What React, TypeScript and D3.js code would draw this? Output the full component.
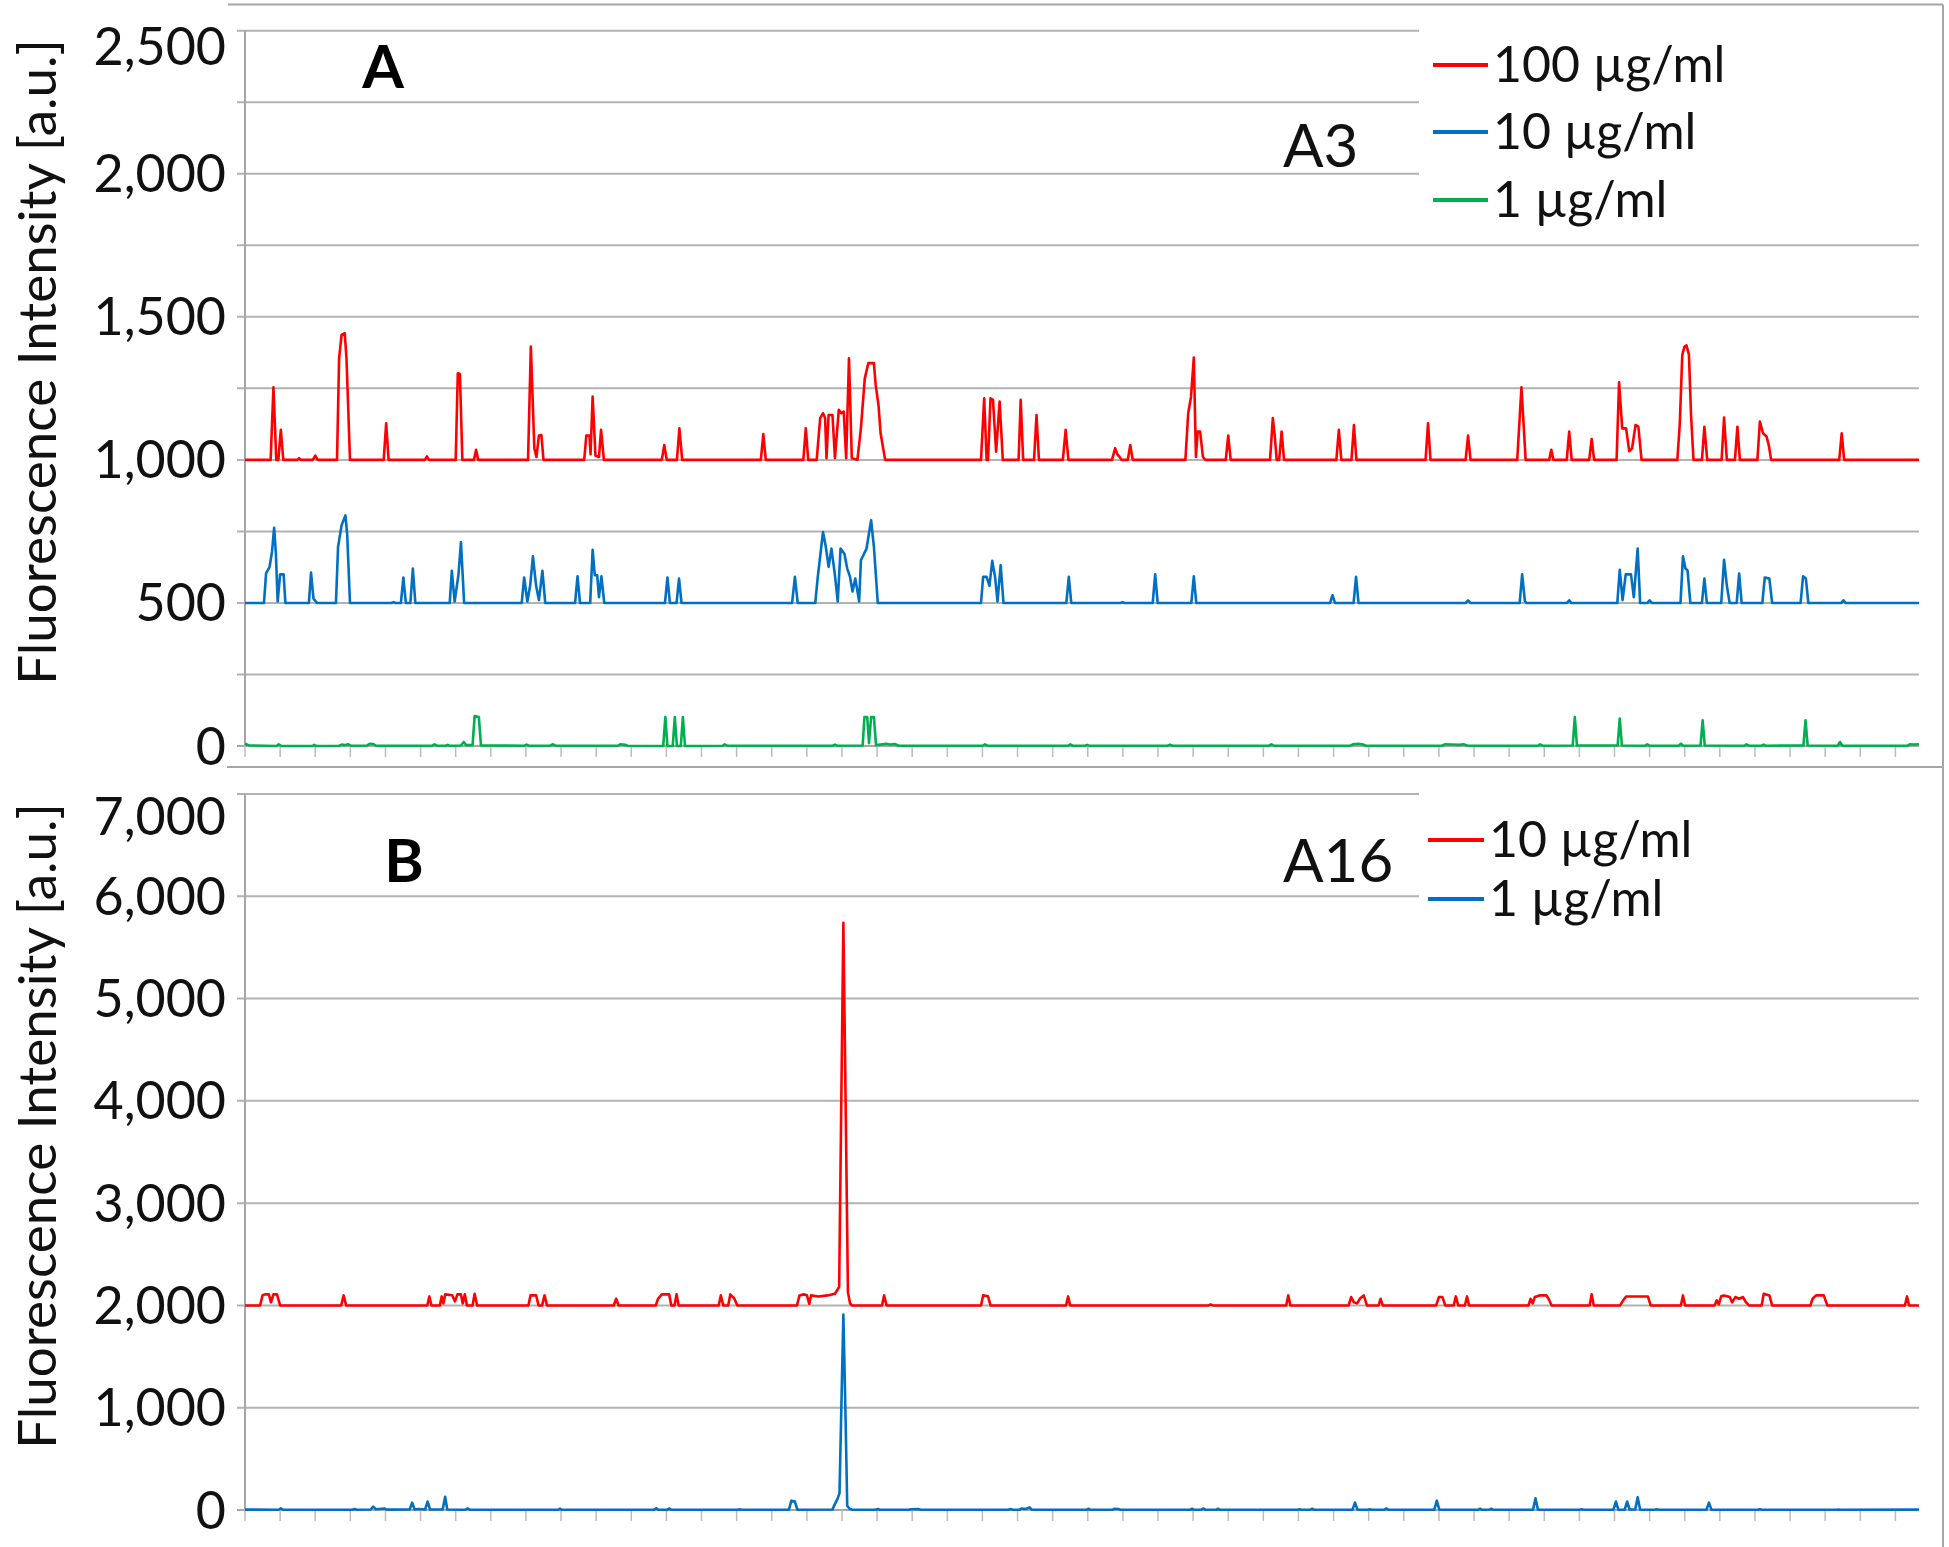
import React, { useRef, useEffect } from "react";
import * as d3 from "d3";

type Pt = [number, number];

// x = sample index along the scan, y = fluorescence intensity [a.u.]
const sampleCount = 477;
const tickEvery = 10;

// Panel A (A3): 100 µg/ml trace (drawn offset to 1000)
const a3High: Pt[] = [
  [0, 1000], [7.3, 1000], [8.1, 1254], [8.9, 1000], [9.5, 1000], [10.2, 1105], [10.9, 1000],
  [14.9, 1000], [15.4, 1006], [15.9, 1000], [19.3, 1000], [20.0, 1015], [20.7, 1000],
  [26.2, 1000], [26.8, 1355], [27.5, 1437], [28.4, 1443], [28.9, 1355], [29.9, 1000],
  [39.5, 1000], [40.2, 1128], [40.9, 1000], [51.2, 1000], [51.8, 1012], [52.4, 1000],
  [60.0, 1000], [60.6, 1303], [61.2, 1300], [61.9, 1000], [65.2, 1000], [65.8, 1035], [66.4, 1000],
  [80.6, 1000], [81.4, 1396], [82.4, 1040], [83.0, 1010], [83.7, 1085], [84.4, 1087], [85.0, 1000],
  [96.6, 1000], [97.2, 1085], [98.1, 1085], [98.4, 1020], [99.0, 1221], [99.8, 1015], [100.8, 1010],
  [101.4, 1105], [102.2, 1000], [118.7, 1000], [119.4, 1052], [120.1, 1000], [123.0, 1000],
  [123.7, 1110], [124.5, 1000], [146.9, 1000], [147.6, 1090], [148.3, 1000], [159.0, 1000],
  [159.7, 1110], [160.4, 1000], [162.8, 1000], [163.8, 1146], [164.6, 1163], [165.2, 1146],
  [165.6, 1006], [166.2, 1157], [167.3, 1157], [168.0, 1006], [169.1, 1175], [169.8, 1163],
  [170.5, 1169], [171.2, 1006], [172.0, 1355], [172.8, 1006], [174.4, 1000], [175.4, 1111],
  [176.5, 1285], [177.5, 1338], [179.1, 1338], [179.6, 1262], [180.4, 1192], [181.0, 1093],
  [182.3, 1000], [209.6, 1000], [210.5, 1215], [211.2, 1000], [211.6, 1000], [212.3, 1215],
  [213.0, 1210], [213.9, 1029], [214.9, 1204], [215.8, 1000], [220.3, 1000], [220.9, 1210],
  [221.6, 1000], [224.7, 1000], [225.4, 1157], [226.1, 1000], [232.9, 1000], [233.7, 1105],
  [234.5, 1000], [246.9, 1000], [247.8, 1041], [248.4, 1020], [249.2, 1008], [249.6, 1000],
  [251.4, 1000], [252.1, 1052], [252.8, 1000], [267.8, 1000], [268.6, 1163], [269.4, 1220],
  [270.2, 1358], [270.8, 1010], [271.3, 1099], [272.0, 1099], [272.8, 1010], [273.5, 1000],
  [279.3, 1000], [280.0, 1085], [280.7, 1000], [291.9, 1000], [292.7, 1146], [293.2, 1090],
  [293.8, 1000], [294.5, 1000], [295.2, 1099], [295.9, 1000], [310.8, 1000], [311.5, 1105],
  [312.2, 1000], [315.1, 1000], [315.8, 1122], [316.5, 1000], [336.2, 1000], [336.9, 1128],
  [337.6, 1000], [347.6, 1000], [348.3, 1085], [349.0, 1000], [362.3, 1000], [363.5, 1254],
  [364.7, 1000], [371.4, 1000], [372.0, 1035], [372.6, 1000], [376.4, 1000], [377.1, 1099],
  [377.8, 1000], [382.8, 1000], [383.5, 1073], [384.2, 1000], [390.6, 1000], [391.3, 1271],
  [392.2, 1110], [393.3, 1110], [394.2, 1030], [395.0, 1040], [396.0, 1122], [396.8, 1116],
  [397.7, 1000], [407.9, 1000], [408.6, 1128], [409.3, 1367], [409.9, 1395], [410.5, 1400],
  [411.2, 1367], [411.8, 1157], [412.5, 1000], [414.9, 1000], [415.6, 1116], [416.4, 1000],
  [420.5, 1000], [421.2, 1148], [422.0, 1000], [424.3, 1000], [425.0, 1116], [425.7, 1000],
  [430.7, 1000], [431.4, 1134], [432.3, 1093], [433.3, 1082], [434.0, 1047], [434.6, 1000],
  [454.0, 1000], [454.7, 1093], [455.4, 1000], [476.7, 1000],
];

// Panel A (A3): 10 µg/ml trace (offset to 500)
const a3Mid: Pt[] = [
  [0, 500], [5.4, 500], [6.0, 603], [7.0, 626], [7.7, 680], [8.3, 763], [8.8, 672], [9.3, 505],
  [10.0, 600], [11.0, 600], [11.5, 500], [18.2, 500], [18.8, 606], [19.5, 515], [20.5, 500],
  [25.9, 500], [26.5, 696], [27.5, 771], [28.6, 806], [29.1, 740], [29.9, 500], [41.7, 500],
  [42.3, 503], [42.9, 500], [44.4, 500], [45.1, 589], [45.8, 500], [47.1, 500], [47.8, 620],
  [48.5, 500], [58.3, 500], [58.9, 612], [59.7, 505], [60.8, 600], [61.5, 713], [62.4, 500],
  [78.8, 500], [79.5, 589], [80.4, 505], [81.2, 560], [82.0, 663], [82.9, 560], [83.7, 510],
  [84.7, 612], [85.5, 500], [94.0, 500], [94.7, 593], [95.4, 500], [98.3, 500], [99.0, 686],
  [99.6, 597], [100.3, 597], [100.8, 520], [101.5, 593], [102.3, 500], [119.6, 500], [120.3, 589],
  [121.0, 500], [122.9, 500], [123.6, 585], [124.3, 500], [155.8, 500], [156.6, 591], [157.4, 500],
  [162.4, 500], [163.1, 589], [164.6, 748], [165.4, 696], [166.2, 626], [167.0, 690], [168.0, 597],
  [168.8, 505], [169.6, 690], [170.7, 672], [171.5, 620], [172.3, 591], [173.0, 540], [173.8, 585],
  [174.9, 505], [175.4, 649], [177.0, 690], [178.3, 789], [179.1, 696], [180.2, 500], [209.6, 500],
  [210.2, 591], [211.2, 591], [212.0, 560], [212.8, 647], [213.6, 591], [214.3, 505], [215.2, 632],
  [216.0, 500], [233.9, 500], [234.6, 591], [235.3, 500], [249.3, 500], [249.9, 503], [250.5, 500],
  [258.5, 500], [259.2, 600], [259.9, 500], [269.5, 500], [270.2, 593], [270.9, 500], [309.0, 500],
  [309.7, 527], [310.4, 500], [315.7, 500], [316.4, 591], [317.1, 500], [347.6, 500], [348.3, 509],
  [349.0, 500], [363.0, 500], [363.7, 600], [364.5, 505], [365.0, 500], [376.5, 500], [377.1, 509],
  [377.7, 500], [390.8, 500], [391.5, 616], [392.3, 510], [393.2, 600], [394.7, 600], [395.5, 520],
  [396.6, 690], [397.3, 500], [399.4, 500], [400.0, 509], [400.6, 500], [408.8, 500], [409.5, 663],
  [410.2, 620], [410.8, 614], [411.6, 500], [414.9, 500], [415.6, 585], [416.3, 500], [420.4, 500],
  [421.2, 651], [422.0, 560], [422.8, 500], [424.8, 500], [425.5, 603], [426.2, 500], [432.1, 500],
  [432.8, 589], [434.1, 585], [434.9, 500], [443.0, 500], [443.7, 593], [444.5, 585], [445.2, 500],
  [454.6, 500], [455.2, 509], [455.8, 500], [476.7, 500],
];

// Panel A (A3): 1 µg/ml trace
const a3Low: Pt[] = [
  [0, 8], [1.2, 2], [9.0, 0], [9.6, 6], [10.3, 0], [19.2, 0], [19.7, 4], [20.3, 0], [26.8, 1],
  [27.5, 5], [28.4, 3], [29.3, 6], [30.1, 1], [34.8, 2], [35.6, 8], [36.6, 7], [37.3, 1], [53.3, 1],
  [54.0, 6], [54.7, 1], [57.1, 1], [57.7, 4], [58.3, 1], [61.5, 2], [62.3, 14], [63.0, 3], [64.8, 3],
  [65.4, 105], [66.6, 101], [67.2, 2], [79.6, 1], [80.2, 5], [80.8, 1], [86.9, 1], [87.6, 6],
  [88.4, 1], [106.2, 1], [107.0, 6], [108.2, 4], [109.0, 1], [119.1, 0], [119.7, 101], [120.3, 0],
  [121.8, 0], [122.4, 101], [123.0, 0], [124.1, 0], [124.7, 101], [125.3, 0], [136.0, 1],
  [136.6, 6], [137.3, 1], [167.4, 1], [168.0, 5], [168.6, 1], [175.9, 2], [176.4, 101],
  [177.2, 101], [177.7, 10], [178.3, 101], [179.1, 101], [179.7, 3], [181.5, 6], [182.6, 8],
  [183.8, 5], [185.0, 7], [186.2, 1], [210.1, 1], [210.7, 6], [211.4, 1], [234.4, 1], [235.0, 6],
  [235.7, 1], [239.2, 1], [239.8, 4], [240.4, 1], [262.8, 1], [263.4, 5], [264.1, 1], [291.6, 1],
  [292.3, 6], [293.0, 1], [314.8, 1], [315.6, 6], [317.0, 8], [318.4, 5], [319.2, 1], [340.8, 1],
  [341.8, 6], [343.6, 5], [345.8, 4], [347.0, 6], [348.2, 1], [368.2, 1], [368.8, 6], [369.5, 1],
  [378.1, 2], [378.7, 101], [379.3, 2], [390.9, 2], [391.5, 96], [392.1, 2], [398.7, 1], [399.3, 6],
  [400.0, 1], [408.3, 1], [408.9, 8], [409.6, 1], [414.5, 2], [415.1, 90], [415.7, 2], [427.0, 1],
  [427.6, 6], [428.3, 1], [431.9, 1], [432.5, 5], [433.1, 1], [443.8, 2], [444.4, 90], [445.0, 2],
  [453.6, 1], [454.2, 14], [454.9, 1], [473.4, 1], [474.2, 6], [475.4, 5], [476.7, 6],
];

// Panel B (A16): 10 µg/ml trace (offset to 2000)
const a16High: Pt[] = [
  [0, 2000], [4.3, 2000], [5.0, 2100], [5.7, 2108], [6.8, 2108], [7.4, 2030], [8.1, 2108],
  [9.1, 2108], [10.0, 2000], [27.4, 2000], [28.1, 2098], [28.8, 2000], [51.9, 2000], [52.5, 2088],
  [53.1, 2000], [55.5, 2000], [56.0, 2088], [56.5, 2020], [57.0, 2108], [59.0, 2100], [59.8, 2040],
  [60.5, 2108], [61.5, 2108], [62.0, 2020], [62.6, 2108], [63.2, 2000], [64.8, 2000], [65.4, 2114],
  [66.1, 2000], [80.7, 2000], [81.3, 2098], [82.9, 2098], [83.6, 2000], [84.6, 2000], [85.3, 2098],
  [86.0, 2000], [105.0, 2000], [105.7, 2065], [106.4, 2000], [117.0, 2000], [117.6, 2065],
  [118.7, 2108], [120.8, 2108], [121.4, 2000], [122.3, 2000], [122.9, 2108], [123.5, 2000],
  [134.9, 2000], [135.5, 2098], [136.2, 2000], [137.6, 2000], [138.2, 2108], [139.3, 2070],
  [140.2, 2000], [157.2, 2000], [157.9, 2098], [159.1, 2108], [160.0, 2100], [160.7, 2016],
  [161.2, 2098], [163.3, 2088], [165.9, 2098], [168.0, 2114], [169.2, 2180], [170.4, 5740],
  [171.1, 3820], [171.7, 2130], [172.3, 2020], [172.8, 2000], [181.4, 2000], [182.0, 2098],
  [182.7, 2000], [209.6, 2000], [210.2, 2098], [211.6, 2090], [212.3, 2000], [233.8, 2000],
  [234.4, 2088], [235.0, 2000], [274.4, 2000], [275.0, 2010], [275.6, 2000], [296.5, 2000],
  [297.1, 2098], [297.7, 2000], [314.3, 2000], [315.0, 2082], [315.8, 2030], [316.7, 2020],
  [317.6, 2070], [318.6, 2098], [319.5, 2000], [322.8, 2000], [323.4, 2065], [324.0, 2000],
  [339.2, 2000], [340.0, 2082], [341.0, 2082], [341.8, 2000], [344.2, 2000], [344.8, 2088],
  [345.5, 2000], [347.4, 2000], [348.0, 2088], [348.6, 2000], [365.5, 2000], [366.1, 2065],
  [366.7, 2020], [367.3, 2082], [368.8, 2100], [370.6, 2098], [371.3, 2060], [372.1, 2000],
  [382.9, 2000], [383.5, 2108], [384.1, 2000], [391.6, 2000], [392.3, 2040], [393.3, 2088],
  [399.5, 2088], [400.3, 2000], [408.9, 2000], [409.5, 2098], [410.1, 2000], [418.5, 2000],
  [419.1, 2050], [419.7, 2010], [420.4, 2090], [421.2, 2098], [422.8, 2082], [423.5, 2030],
  [424.4, 2082], [425.5, 2065], [426.6, 2082], [427.4, 2033], [428.3, 2000], [431.9, 2000],
  [432.5, 2114], [434.1, 2098], [434.9, 2000], [445.8, 2000], [446.4, 2065], [447.4, 2098],
  [449.6, 2098], [450.6, 2000], [472.7, 2000], [473.3, 2088], [473.9, 2000], [476.7, 2000],
];

// Panel B (A16): 1 µg/ml trace
const a16Low: Pt[] = [
  [0, 4], [9.6, 2], [10.2, 16], [10.8, 2], [30.6, 2], [31.2, 10], [31.8, 2], [35.8, 5], [36.5, 33],
  [37.3, 8], [39.7, 15], [40.4, 4], [46.9, 5], [47.6, 72], [48.3, 5], [49.5, 10], [51.3, 5],
  [52.0, 82], [52.7, 5], [56.3, 5], [57.0, 130], [57.6, 5], [62.8, 3], [63.4, 15], [64.0, 3],
  [89.1, 2], [89.7, 12], [90.3, 2], [116.5, 2], [117.1, 18], [117.7, 2], [120.2, 2], [120.8, 15],
  [121.4, 2], [140.2, 2], [140.8, 8], [141.4, 2], [154.9, 3], [155.6, 91], [156.6, 82], [157.3, 3],
  [167.3, 5], [168.0, 60], [168.6, 98], [169.3, 163], [170.4, 1910], [171.0, 945], [171.5, 40],
  [172.2, 12], [173.0, 3], [179.6, 2], [180.2, 10], [180.8, 2], [189.0, 2], [189.6, 8], [191.7, 10],
  [192.4, 2], [217.4, 2], [218.0, 10], [218.6, 2], [220.6, 3], [221.2, 15], [222.3, 10], [223.4, 26],
  [224.1, 3], [239.6, 2], [240.2, 12], [240.8, 2], [247.0, 2], [247.6, 12], [248.6, 10], [249.3, 2],
  [269.1, 2], [269.7, 12], [270.3, 2], [272.3, 2], [272.9, 15], [273.5, 2], [276.5, 2], [277.1, 12],
  [277.7, 2], [299.7, 2], [300.3, 8], [300.9, 2], [303.3, 2], [303.9, 12], [304.5, 2], [315.4, 3],
  [316.1, 72], [316.8, 3], [319.7, 2], [320.3, 8], [320.9, 2], [324.4, 2], [325.0, 15], [325.6, 2],
  [338.7, 3], [339.4, 91], [340.1, 3], [351.1, 2], [351.7, 12], [352.3, 2], [354.3, 2], [354.9, 12],
  [355.5, 2], [366.8, 3], [367.5, 114], [368.2, 3], [380.0, 2], [380.6, 8], [381.2, 2], [389.7, 3],
  [390.4, 82], [391.1, 3], [392.9, 3], [393.6, 82], [394.3, 5], [395.9, 5], [396.6, 124], [397.3, 3],
  [401.4, 2], [402.0, 8], [402.6, 2], [416.2, 3], [416.9, 72], [417.6, 3], [430.8, 2], [431.4, 8],
  [432.0, 2], [453.2, 2], [453.8, 5], [454.4, 2], [476.7, 4],
];

const legendA = ["100 µg/ml", "10 µg/ml", "1 µg/ml"];
const legendB = ["10 µg/ml", "1 µg/ml"];
const ticksA = [0, 500, 1000, 1500, 2000, 2500];
const gridA = [250, 500, 750, 1000, 1250, 1500, 1750, 2000, 2250, 2500];
const ticksB = [0, 1000, 2000, 3000, 4000, 5000, 6000, 7000];
const gridB = [1000, 2000, 3000, 4000, 5000, 6000, 7000];
const yTitle = "Fluorescence Intensity [a.u.]";

const RED = "#ff0000";
const BLUE = "#0070c0";
const GREEN = "#00b050";
const GRID = "#b2b2b2";
const FONT = "Lato, 'Open Sans', sans-serif";
const W = 1949;
const H = 1547;

const App: React.FC = () => {
  const svgRef = useRef<SVGSVGElement>(null);

  useEffect(() => {
    if (!svgRef.current) return;
    const svg = d3.select(svgRef.current);
    svg.selectAll("*").remove();

    svg.append("rect").attr("width", W).attr("height", H).attr("fill", "#fff");

    const x = d3.scaleLinear().domain([0, sampleCount]).range([245, 1920]);
    const plotLeft = 245;
    const plotRight = x(476.7);

    const panels = [
      {
        y: d3.scaleLinear().domain([0, 2500]).range([746, 30.7]),
        grid: gridA,
        ticks: ticksA,
        labelTop: 46,
        titleY: 362,
        tag: "A",
        tagX: 383,
        tagY: 88,
        id: "A3",
        idY: 167,
        legend: legendA,
        legendY: [65, 132, 200],
        legendLine: [1433, 1488],
        legendBox: [22, 232],
        series: [
          { data: a3High, color: RED },
          { data: a3Mid, color: BLUE },
          { data: a3Low, color: GREEN },
        ],
      },
      {
        y: d3.scaleLinear().domain([0, 7000]).range([1510, 794]),
        grid: gridB,
        ticks: ticksB,
        labelTop: 816,
        titleY: 1126,
        tag: "B",
        tagX: 404,
        tagY: 882,
        id: "A16",
        idY: 882,
        legend: legendB,
        legendY: [840, 899],
        legendLine: [1428, 1484],
        legendBox: [784, 947],
        series: [
          { data: a16High, color: RED },
          { data: a16Low, color: BLUE },
        ],
      },
    ];

    // outer frame pieces of the two chart areas
    svg.append("line").attr("x1", 228).attr("x2", 1943).attr("y1", 4.5).attr("y2", 4.5)
      .attr("stroke", "#a6a6a6").attr("stroke-width", 2);
    svg.append("line").attr("x1", 227).attr("x2", 1943).attr("y1", 767).attr("y2", 767)
      .attr("stroke", "#a6a6a6").attr("stroke-width", 2);
    svg.append("line").attr("x1", 1943).attr("x2", 1943).attr("y1", 4.5).attr("y2", H)
      .attr("stroke", "#a6a6a6").attr("stroke-width", 2);

    panels.forEach((p) => {
      const g = svg.append("g");
      const y = p.y;
      const base = y(0);

      // gridlines with outward tick stubs
      g.selectAll(".grid")
        .data(p.grid)
        .join("line")
        .attr("x1", plotLeft - 8)
        .attr("x2", plotRight)
        .attr("y1", (d) => y(d))
        .attr("y2", (d) => y(d))
        .attr("stroke", GRID)
        .attr("stroke-width", 2);

      // legend background hides the gridlines behind it
      g.append("rect")
        .attr("x", 1419)
        .attr("y", p.legendBox[0])
        .attr("width", plotRight - 1419 + 2)
        .attr("height", p.legendBox[1] - p.legendBox[0])
        .attr("fill", "#fff");

      // y axis
      g.append("line")
        .attr("x1", plotLeft).attr("x2", plotLeft)
        .attr("y1", y(p.ticks[p.ticks.length - 1])).attr("y2", base)
        .attr("stroke", "#a6a6a6").attr("stroke-width", 2);

      // x axis + ticks
      g.append("line")
        .attr("x1", plotLeft - 8).attr("x2", plotRight)
        .attr("y1", base).attr("y2", base)
        .attr("stroke", "#a6a6a6").attr("stroke-width", 2);
      g.selectAll(".xt")
        .data(d3.range(0, sampleCount, tickEvery))
        .join("line")
        .attr("x1", (d) => x(d)).attr("x2", (d) => x(d))
        .attr("y1", base).attr("y2", base + 11)
        .attr("stroke", "#c4b8b8").attr("stroke-width", 1.5);

      // y tick labels
      g.selectAll(".yl")
        .data(p.ticks)
        .join("text")
        .attr("x", 226)
        .attr("y", (d) => Math.max(y(d), p.labelTop) + 18.5)
        .attr("text-anchor", "end")
        .attr("font-family", FONT)
        .attr("font-size", 52)
        .attr("fill", "#111")
        .text((d) => d3.format(",")(d));

      // y title
      g.append("text")
        .attr("transform", `translate(35,${p.titleY}) rotate(-90)`)
        .attr("text-anchor", "middle")
        .attr("dominant-baseline", "central")
        .attr("font-family", FONT)
        .attr("font-size", 53)
        .attr("fill", "#111")
        .text(yTitle);

      // series
      const line = d3
        .line<Pt>()
        .x((d) => x(d[0]))
        .y((d) => y(d[1]));
      p.series.forEach((s) => {
        g.append("path")
          .datum(s.data)
          .attr("fill", "none")
          .attr("stroke", s.color)
          .attr("stroke-width", 2.6)
          .attr("stroke-linejoin", "round")
          .attr("d", line);
      });

      // panel letter and sample id
      g.append("text")
        .attr("x", p.tagX).attr("y", p.tagY)
        .attr("text-anchor", "middle")
        .attr("font-family", FONT)
        .attr("font-weight", "bold")
        .attr("font-size", 60)
        .attr("fill", "#000")
        .text(p.tag);
      g.append("text")
        .attr("x", 1283).attr("y", p.idY)
        .attr("font-family", FONT)
        .attr("font-size", 60)
        .attr("fill", "#111")
        .text(p.id);

      // legend
      p.legend.forEach((label, i) => {
        const ly = p.legendY[i];
        g.append("line")
          .attr("x1", p.legendLine[0]).attr("x2", p.legendLine[1])
          .attr("y1", ly).attr("y2", ly)
          .attr("stroke", p.series[i].color)
          .attr("stroke-width", 4);
        g.append("text")
          .attr("x", p.legendLine[1] + 5)
          .attr("y", ly + 17)
          .attr("font-family", FONT)
          .attr("font-size", 50)
          .attr("fill", "#111")
          .text(label);
      });
    });
  }, []);

  return (
    <div style={{ position: "absolute", left: 0, top: 0, width: W, height: H, background: "#fff" }}>
      <svg ref={svgRef} width={W} height={H} style={{ display: "block" }} />
    </div>
  );
};

export default App;
